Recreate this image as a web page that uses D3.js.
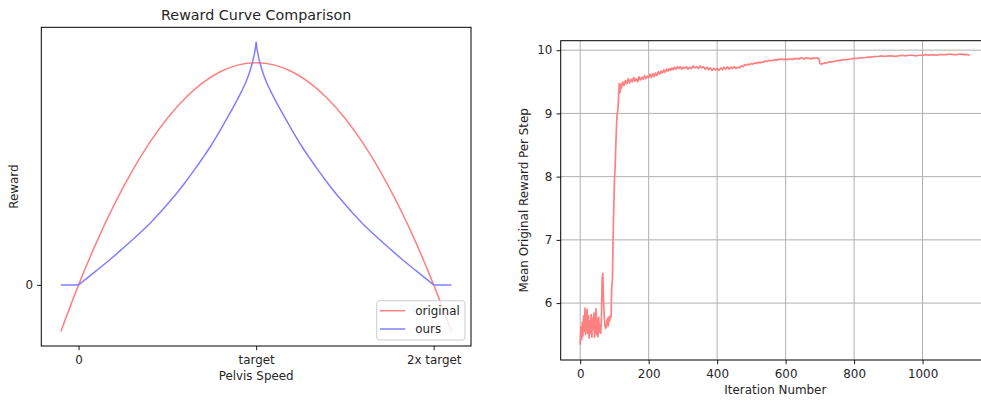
<!DOCTYPE html>
<html>
<head>
<meta charset="utf-8">
<script src="https://d3js.org/d3.v7.min.js"></script>
<style>
  body { margin: 0; background: #fff; }
  svg { display: block; font-family: "DejaVu Sans", sans-serif; }
  text { fill: #262626; }
</style>
</head>
<body>
<svg id="chart" width="981" height="401"></svg>
<script>
// left chart: reward curves, x in units of target speed
var speedTicks = [0, 1, 2];
var speedTickLabels = ['0', 'target', '2x target'];
var originalCurve = [
	[-0.1, -0.21], [0, 0], [0.1, 0.19], [0.2, 0.36], [0.3, 0.51], [0.4, 0.64],
	[0.5, 0.75], [0.6, 0.84], [0.7, 0.91], [0.8, 0.96], [0.9, 0.99], [1.0, 1.0],
	[1.1, 0.99], [1.2, 0.96], [1.3, 0.91], [1.4, 0.84], [1.5, 0.75], [1.6, 0.64],
	[1.7, 0.51], [1.8, 0.36], [1.9, 0.19], [2.0, 0], [2.1, -0.21]
];
var oursCurve = [
	[-0.1, 0], [0, 0], [0.1, 0.064], [0.174, 0.112], [0.25, 0.165], [0.362, 0.246],
	[0.4, 0.275], [0.45, 0.318], [0.5, 0.363], [0.549, 0.409], [0.6, 0.461], [0.65, 0.515],
	[0.7, 0.572], [0.737, 0.616], [0.8, 0.699], [0.85, 0.769], [0.868, 0.795], [0.9, 0.843],
	[0.92, 0.874], [0.943, 0.914], [0.96, 0.95], [0.98, 1.004], [0.99, 1.039], [0.996, 1.066],
	[1.0, 1.094],
	[1.004, 1.066], [1.01, 1.039], [1.02, 1.004], [1.04, 0.95], [1.057, 0.914], [1.08, 0.874],
	[1.1, 0.843], [1.132, 0.795], [1.15, 0.769], [1.2, 0.699], [1.263, 0.616], [1.3, 0.572],
	[1.35, 0.515], [1.4, 0.461], [1.451, 0.409], [1.5, 0.363], [1.55, 0.318], [1.6, 0.275],
	[1.638, 0.246], [1.75, 0.165], [1.826, 0.112], [1.9, 0.064], [2.0, 0], [2.1, 0]
];
var rewardTicks = [0];

// right chart: training curve
var iterationTicks = [0, 200, 400, 600, 800, 1000];
var meanRewardTicks = [6, 7, 8, 9, 10];
var meanReward = [
	[0,5.34],[2,5.62],[4,5.42],[6,5.70],[8,5.48],[10,5.80],[12,5.55],[14,5.92],[16,5.50],[18,5.74],
	[20,5.90],[22,5.52],[24,5.80],[26,5.45],[28,5.72],[30,5.52],[32,5.82],[34,5.46],[36,5.76],[38,5.58],
	[40,5.84],[42,5.46],[44,5.70],[46,5.91],[48,5.50],[50,5.76],[52,5.47],[54,5.78],[56,5.54],[58,5.66],
	[60,5.52],[62,5.78],[64,6.38],[66,6.47],[68,6.05],[70,5.80],[72,5.66],[74,5.60],[76,5.62],[78,5.70],
	[80,5.76],[82,5.64],[84,5.78],[86,5.72],[88,5.80],[90,5.78],[92,6.25],[94,6.35],[96,7.00],[98,7.50],
	[100,7.95],[102,8.15],[104,8.50],[106,8.80],[108,9.00],[110,9.05],[112,9.25],[114,9.47],[116,9.33],[118,9.46],
	[120,9.40],[124,9.50],[128,9.44],[132,9.52],[136,9.47],[140,9.55],[144,9.48],[148,9.54],[152,9.50],[156,9.57],
	[160,9.51],[164,9.55],[168,9.50],[172,9.58],[176,9.53],[180,9.57],[184,9.54],[188,9.60],[192,9.55],[196,9.59],
	[200,9.57],[204,9.62],[208,9.57],[212,9.63],[216,9.58],[220,9.64],[224,9.60],[228,9.66],[232,9.62],[236,9.67],
	[240,9.64],[244,9.69],[248,9.65],[252,9.70],[256,9.67],[260,9.71],[264,9.68],[268,9.72],[272,9.69],[276,9.73],
	[280,9.70],[284,9.74],[288,9.71],[292,9.74],[296,9.70],[300,9.73],[305,9.71],[310,9.74],[315,9.70],[320,9.73],
	[325,9.71],[330,9.75],[335,9.72],[340,9.74],[345,9.71],[350,9.75],[355,9.72],[360,9.74],[365,9.70],[370,9.73],
	[375,9.69],[380,9.72],[385,9.68],[390,9.71],[395,9.69],[400,9.71],[405,9.68],[410,9.72],[415,9.69],[420,9.73],
	[425,9.70],[430,9.74],[435,9.70],[440,9.73],[445,9.71],[450,9.74],[455,9.71],[460,9.73],[465,9.72],[470,9.75],
	[475,9.74],[480,9.77],[485,9.76],[490,9.78],[495,9.77],[500,9.79],[505,9.78],[510,9.80],[515,9.79],[520,9.81],
	[525,9.80],[530,9.81],[535,9.81],[540,9.83],[545,9.82],[550,9.84],[555,9.83],[560,9.84],[565,9.84],[570,9.85],
	[575,9.84],[580,9.86],[585,9.85],[590,9.86],[595,9.85],[600,9.86],[605,9.85],[610,9.86],[615,9.86],[620,9.85],
	[625,9.87],[630,9.86],[635,9.87],[640,9.86],[645,9.88],[650,9.87],[655,9.86],[660,9.88],[665,9.87],[670,9.87],
	[675,9.86],[680,9.88],[685,9.87],[690,9.88],[695,9.87],[698,9.86],[700,9.79],[705,9.78],[710,9.79],[715,9.80],
	[720,9.80],[725,9.81],[730,9.81],[735,9.82],[740,9.82],[745,9.83],[750,9.83],[760,9.84],[770,9.85],[780,9.85],
	[790,9.86],[800,9.87],[810,9.87],[820,9.88],[830,9.88],[840,9.89],[850,9.89],[860,9.90],[870,9.90],[880,9.91],
	[890,9.90],[900,9.91],[910,9.91],[920,9.90],[930,9.91],[940,9.92],[950,9.91],[960,9.92],[970,9.92],[980,9.91],
	[990,9.92],[1000,9.92],[1010,9.93],[1020,9.92],[1030,9.93],[1040,9.92],[1050,9.93],[1060,9.93],[1070,9.93],[1080,9.94],
	[1090,9.93],[1100,9.93],[1110,9.94],[1120,9.93],[1130,9.93],[1138,9.92]
];

var red = '#ff8080';
var blue = '#8080ff';
var labelSize = 11.9;
var tickLen = 4.2;

var svg = d3.select('#chart');
svg.append('rect').attr('width', 981).attr('height', 401).attr('fill', '#fff');

// ---------- left ----------
var left = { x0: 41.3, x1: 471, y0: 27.3, y1: 346 };
var xL = d3.scaleLinear().domain([-0.21, 2.21]).range([left.x0, left.x1]);
var yL = d3.scaleLinear().domain([-0.275, 1.159]).range([left.y1, left.y0]);

var gL = svg.append('g');
var smoothL = d3.line()
	.x(function(d) { return xL(d[0]); })
	.y(function(d) { return yL(d[1]); })
	.curve(d3.curveMonotoneX);
var straightL = d3.line()
	.x(function(d) { return xL(d[0]); })
	.y(function(d) { return yL(d[1]); });

gL.append('path').datum(originalCurve)
	.attr('d', smoothL).attr('fill', 'none').attr('stroke', red).attr('stroke-width', 1.5);

// ours: flat tails + two branches meeting at a cusp at the target
var peakIdx = d3.maxIndex(oursCurve, function(d) { return d[1]; });
var oursLeft = oursCurve.slice(0, peakIdx + 1).filter(function(d) { return d[0] >= 0; });
var oursRight = oursCurve.slice(peakIdx).filter(function(d) { return d[0] <= 2; });
var oursPath = straightL(oursCurve.filter(function(d) { return d[0] <= 0; })) +
	smoothL(oursLeft) + smoothL(oursRight) +
	straightL(oursCurve.filter(function(d) { return d[0] >= 2; }));
gL.append('path').attr('d', oursPath)
	.attr('fill', 'none').attr('stroke', blue).attr('stroke-width', 1.5)
	.attr('stroke-linejoin', 'round');

var axBL = gL.append('g').attr('transform', 'translate(0,' + left.y1 + ')')
	.call(d3.axisBottom(xL).tickValues(speedTicks)
		.tickFormat(function(d, i) { return speedTickLabels[i]; })
		.tickSize(tickLen).tickPadding(5.3));
var axLL = gL.append('g').attr('transform', 'translate(' + left.x0 + ',0)')
	.call(d3.axisLeft(yL).tickValues(rewardTicks).tickFormat(d3.format('d'))
		.tickSize(tickLen).tickPadding(4));
[axBL, axLL].forEach(function(a) {
	a.select('.domain').remove();
	a.selectAll('text').attr('font-size', labelSize).attr('font-family', 'DejaVu Sans');
	a.selectAll('line').attr('stroke', '#000').attr('stroke-width', 0.9);
});

gL.append('rect')
	.attr('x', left.x0).attr('y', left.y0)
	.attr('width', left.x1 - left.x0).attr('height', left.y1 - left.y0)
	.attr('fill', 'none').attr('stroke', '#000').attr('stroke-width', 1);

gL.append('text').attr('x', (left.x0 + left.x1) / 2).attr('y', 19.5)
	.attr('text-anchor', 'middle').attr('font-size', 14.3).text('Reward Curve Comparison');
gL.append('text').attr('x', (left.x0 + left.x1) / 2).attr('y', 379.5)
	.attr('text-anchor', 'middle').attr('font-size', labelSize).text('Pelvis Speed');
gL.append('text').attr('transform', 'translate(18,' + ((left.y0 + left.y1) / 2) + ') rotate(-90)')
	.attr('text-anchor', 'middle').attr('font-size', labelSize).text('Reward');

// legend
var legend = gL.append('g').attr('transform', 'translate(376.7,300.7)');
legend.append('rect').attr('width', 88.3).attr('height', 39.3).attr('rx', 3)
	.attr('fill', '#fff').attr('fill-opacity', 0.8).attr('stroke', '#cccccc').attr('stroke-width', 1);
[['original', red], ['ours', blue]].forEach(function(item, i) {
	var yy = 10 + i * 18.3;
	legend.append('line').attr('x1', 3.3).attr('x2', 28.6).attr('y1', yy).attr('y2', yy)
		.attr('stroke', item[1]).attr('stroke-width', 1.5);
	legend.append('text').attr('x', 38.6).attr('y', yy + 4.2)
		.attr('font-size', labelSize).text(item[0]);
});

// ---------- right ----------
var right = { x0: 560.7, x1: 990, y0: 40.7, y1: 360 };
var xR = d3.scaleLinear().domain([-57, 1197]).range([right.x0, right.x1]);
var yR = d3.scaleLinear().domain([5.10, 10.15]).range([right.y1, right.y0]);

var gR = svg.append('g');

// grid
gR.selectAll('line.vgrid').data(iterationTicks).enter().append('line')
	.attr('class', 'vgrid')
	.attr('x1', function(d) { return xR(d); }).attr('x2', function(d) { return xR(d); })
	.attr('y1', right.y0).attr('y2', right.y1)
	.attr('stroke', '#b0b0b0').attr('stroke-width', 1);
gR.selectAll('line.hgrid').data(meanRewardTicks).enter().append('line')
	.attr('class', 'hgrid')
	.attr('x1', right.x0).attr('x2', right.x1)
	.attr('y1', function(d) { return yR(d); }).attr('y2', function(d) { return yR(d); })
	.attr('stroke', '#b0b0b0').attr('stroke-width', 1);

var lineR = d3.line()
	.x(function(d) { return xR(d[0]); })
	.y(function(d) { return yR(d[1]); });
gR.append('path').datum(meanReward)
	.attr('d', lineR).attr('fill', 'none').attr('stroke', red)
	.attr('stroke-width', 1.7).attr('stroke-linejoin', 'round');

var axBR = gR.append('g').attr('transform', 'translate(0,' + right.y1 + ')')
	.call(d3.axisBottom(xR).tickValues(iterationTicks).tickFormat(d3.format('d'))
		.tickSize(tickLen).tickPadding(5.1));
var axLR = gR.append('g').attr('transform', 'translate(' + right.x0 + ',0)')
	.call(d3.axisLeft(yR).tickValues(meanRewardTicks).tickFormat(d3.format('d'))
		.tickSize(tickLen).tickPadding(4.2));
[axBR, axLR].forEach(function(a) {
	a.select('.domain').remove();
	a.selectAll('text').attr('font-size', labelSize).attr('font-family', 'DejaVu Sans');
	a.selectAll('line').attr('stroke', '#000').attr('stroke-width', 0.9);
});

gR.append('rect')
	.attr('x', right.x0).attr('y', right.y0)
	.attr('width', right.x1 - right.x0).attr('height', right.y1 - right.y0)
	.attr('fill', 'none').attr('stroke', '#000').attr('stroke-width', 1);

gR.append('text').attr('x', (right.x0 + right.x1) / 2).attr('y', 394)
	.attr('text-anchor', 'middle').attr('font-size', labelSize).text('Iteration Number');
gR.append('text').attr('transform', 'translate(528,' + ((right.y0 + right.y1) / 2) + ') rotate(-90)')
	.attr('text-anchor', 'middle').attr('font-size', labelSize).text('Mean Original Reward Per Step');
</script>
</body>
</html>
